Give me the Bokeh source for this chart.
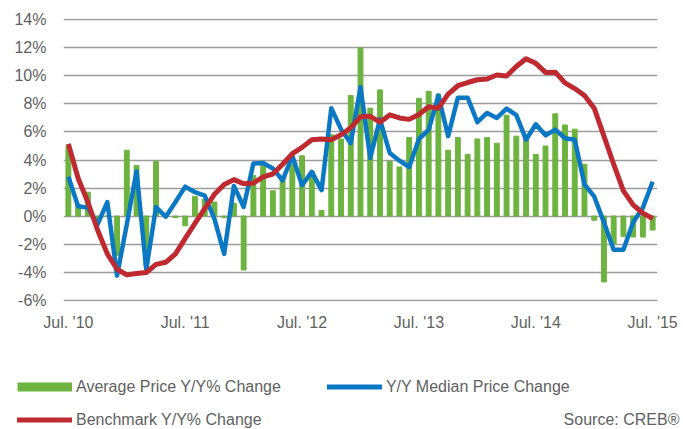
from bokeh.plotting import figure
from bokeh.layouts import column
from bokeh.models import Range1d, FixedTicker, Legend, LegendItem
from bokeh.embed import file_html
from bokeh.resources import INLINE

# ---- data (Jul 2010 .. Jul 2015, monthly) ----
months = list(range(61))
tick_positions = [0, 12, 24, 36, 48, 60]
tick_labels = ["Jul. '10", "Jul. '11", "Jul. '12", "Jul. '13", "Jul. '14", "Jul. '15"]
y_ticks = [-6, -4, -2, 0, 2, 4, 6, 8, 10, 12, 14]

avg_price = [5.0, 0.8, 1.7, -0.4, 0.0, -2.8, 4.7, 3.6, -3.5, 3.9,
             0.2, -0.1, -0.7, 1.4, 1.2, 1.0, -0.1, 0.9, -3.85, 2.9,
             3.8, 1.8, 2.8, 3.7, 4.3, 3.2, 0.4, 5.8, 5.5, 8.6,
             12.0, 7.7, 9.0, 3.9, 3.5, 5.6, 8.4, 8.9, 8.7, 4.7,
             5.6, 4.4, 5.5, 5.6, 5.2, 7.2, 5.7, 5.5, 4.4, 5.0,
             7.3, 6.5, 6.2, 3.7, -0.3, -4.7, -2.0, -1.45, -1.5, -1.5,
             -1.0]

median_price = [2.8, 0.7, 0.6, -0.6, 1.0, -4.25, -0.6, 3.2, -3.8, 0.64,
                -0.05, 1.0, 2.1, 1.7, 1.45, -0.2, -2.7, 2.15, 0.65, 3.75,
                3.78, 3.4, 2.55, 4.3, 2.2, 3.15, 1.85, 7.7, 6.2, 5.2,
                9.2, 4.15, 6.9, 4.5, 3.95, 3.5, 5.5, 6.15, 8.6, 5.7,
                8.45, 8.45, 6.7, 7.36, 7.0, 7.67, 7.2, 5.45, 6.55, 5.76,
                6.17, 5.55, 5.45, 2.25, 1.4, -0.45, -2.4, -2.4, -0.45, 0.6,
                2.45]

benchmark = [5.15, 2.7, 1.0, -1.0, -2.7, -3.8, -4.2, -4.1, -4.03, -3.45,
             -3.3, -2.7, -1.6, -0.53, 0.53, 1.55, 2.25, 2.6, 2.3, 2.35,
             2.8, 3.0, 3.7, 4.45, 4.9, 5.45, 5.5, 5.45, 5.8, 6.3,
             7.08, 7.12, 6.7, 7.22, 7.0, 6.9, 7.25, 7.8, 7.7, 8.7,
             9.3, 9.53, 9.73, 9.78, 10.07, 10.0, 10.67, 11.23, 10.9, 10.25,
             10.27, 9.5, 9.1, 8.6, 7.7, 5.7, 3.7, 1.8, 0.8, 0.2,
             -0.17]

GREEN = "#6db33f"
BLUE = "#0a78c2"
RED = "#be2a2f"
TEXT = "#5f5f5f"
GRID = "#9c9c9c"
FONT = "Liberation Sans"
NAN = float("nan")

p = figure(width=683, height=340, output_backend="svg", toolbar_location=None,
           x_range=Range1d(-0.5, 60.5), y_range=Range1d(-6.1, 14.1),
           min_border_left=63, min_border_right=26, min_border_top=18,
           min_border_bottom=39)
p.frame_align = False
p.outline_line_color = None
p.background_fill_color = "white"

p.xgrid.grid_line_color = None
p.ygrid.ticker = FixedTicker(ticks=y_ticks)
p.ygrid.grid_line_color = GRID
p.ygrid.grid_line_width = 1.6

p.yaxis.ticker = FixedTicker(ticks=y_ticks)
p.yaxis.major_label_overrides = {t: f"{t}%" for t in y_ticks}
p.xaxis.ticker = FixedTicker(ticks=tick_positions)
p.xaxis.major_label_overrides = {t: l for t, l in zip(tick_positions, tick_labels)}
for ax in (p.xaxis, p.yaxis):
    ax.axis_line_color = None
    ax.major_tick_line_color = None
    ax.minor_tick_line_color = None
    ax.major_tick_out = 0
    ax.major_tick_in = 0
    ax.major_label_text_font = FONT
    ax.major_label_text_font_size = "16px"
    ax.major_label_text_color = TEXT
p.yaxis.major_label_standoff = 17
p.xaxis.major_label_standoff = 12

p.vbar(x=months, top=avg_price, width=0.5, color=GREEN)
p.line(months, median_price, line_color=BLUE, line_width=4.5, line_join="round")
p.line(months, benchmark, line_color=RED, line_width=5, line_join="round")

# ---- legend strip below the chart ----
lg = figure(width=683, height=89, output_backend="svg", toolbar_location=None,
            x_range=Range1d(0, 683), y_range=Range1d(0, 89),
            x_axis_location=None, y_axis_location=None,
            min_border_left=0, min_border_right=0, min_border_top=0,
            min_border_bottom=0)
lg.frame_align = False
lg.outline_line_color = None
lg.xgrid.grid_line_color = None
lg.ygrid.grid_line_color = None

# swatch renderers (no visible data, only used to draw legend glyphs)
sw_green = lg.line([NAN, NAN], [NAN, NAN], line_color=GREEN, line_width=9, line_cap="butt")
sw_blue = lg.line([NAN, NAN], [NAN, NAN], line_color=BLUE, line_width=5, line_cap="round")
sw_red = lg.line([NAN, NAN], [NAN, NAN], line_color=RED, line_width=5, line_cap="round")
sw_none = lg.line([NAN, NAN], [NAN, NAN], line_color=None, line_alpha=0)

def make_legend(items, loc, spacing):
    leg = Legend(items=[LegendItem(label=l, renderers=[r]) for l, r in items],
                 location=loc, orientation="horizontal", glyph_width=55,
                 glyph_height=19, label_height=19, label_standoff=4, padding=0,
                 margin=0, spacing=spacing, border_line_color=None,
                 background_fill_alpha=0, label_text_font=FONT,
                 label_text_font_size="16px", label_text_color=TEXT)
    lg.add_layout(leg)

make_legend([("Average Price Y/Y% Change", sw_green),
             ("Y/Y Median Price Change", sw_blue)], (17, 33), 46)
make_legend([("Benchmark Y/Y% Change", sw_red),
             ("Source: CREB®", sw_none)], (17, 0), 243)

layout = column(p, lg, spacing=0)
open("out.html", "w").write(file_html(layout, INLINE))
